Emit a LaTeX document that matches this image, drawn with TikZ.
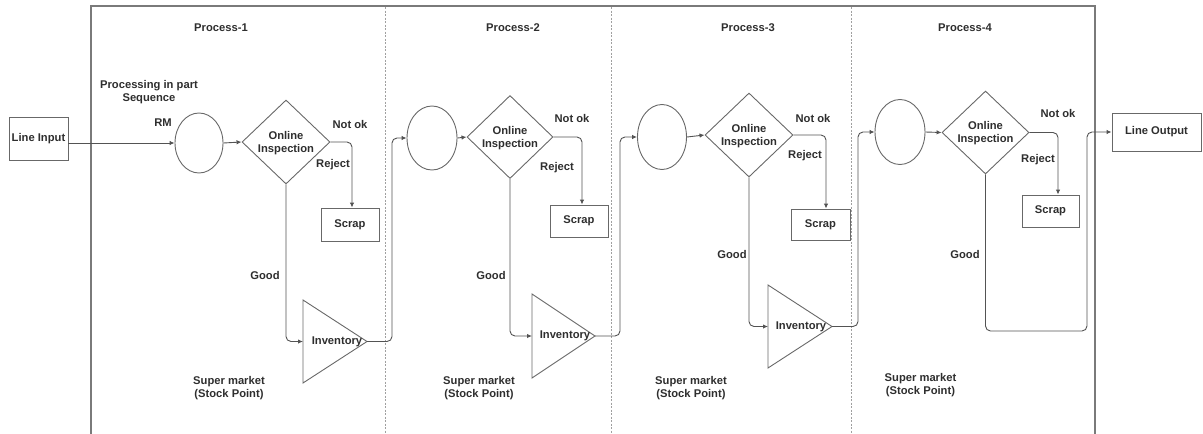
\documentclass[tikz,border=0pt]{standalone}
\usepackage{fontspec}
\setmainfont{Liberation Sans}
\usetikzlibrary{arrows.meta,shapes.geometric}

\definecolor{edge}{HTML}{686868}
\definecolor{framec}{HTML}{7A7A7A}
\definecolor{sep}{HTML}{A0A0A0}
\definecolor{ink}{HTML}{2E2E2E}

\begin{document}
\begin{tikzpicture}[x=1pt,y=-1pt,
  txt/.style={font=\bfseries\fontsize{11.2}{13}\selectfont, text=ink, inner sep=0pt, align=center},
  box/.style={draw=edge, line width=0.9pt, rectangle, inner sep=0pt, txt},
  station/.style={draw=edge, line width=0.9pt, ellipse, inner sep=0pt},
  check/.style={draw=edge, line width=0.9pt, diamond, inner sep=0pt},
  conn/.style={draw=edge!80!black, line width=0.9pt, rounded corners=5pt, -{Latex[length=5pt,width=4.5pt]}},
  store/.style={draw=edge, line width=0.9pt, line join=miter},
  lane/.style={draw=sep, line width=0.8pt, dash pattern=on 2pt off 1.5pt},
  outline/.style={draw=framec, line width=1.3pt},
]
\useasboundingbox (0,0) rectangle (1203,434);

% outer frame and lane separators
\draw[outline] (91,434) -- (91,6) -- (1095,6) -- (1095,434);
\draw[lane] (385,7) -- (385,434);
\draw[lane] (611,7) -- (611,434);
\draw[lane] (851,7) -- (851,434);

% lane titles
\node[txt] (h1) at (221,28) {Process-1};
\node[txt] (h2) at (513,28) {Process-2};
\node[txt] (h3) at (748,28) {Process-3};
\node[txt] (h4) at (965,28) {Process-4};

% line input
\node[box, minimum width=59pt, minimum height=43pt] (li) at (38.5,138.5) {Line Input};
\node[txt] (seq) at (149,92) {Processing in part\\Sequence};
\node[txt] (rm) at (163,123) {RM};

% ---------- Process 1 ----------
\node[station, minimum width=48pt, minimum height=60pt] (c1) at (199,143) {};
\node[check, minimum width=88pt, minimum height=84pt] (d1) at (286,142) {};
\node[txt] (d1t) at (286,143) {Online\\Inspection};
\node[box, minimum width=58pt, minimum height=33pt] (s1) at (350,224.5) {Scrap};
\node[txt] (n1) at (350,124) {Not ok};
\node[txt] (r1) at (333,165) {Reject};
\node[txt] (g1) at (265,275) {Good};
\coordinate (t1w) at (303,341.5);
\coordinate (t1e) at (367,341.5);
\draw[store] (303,300) -- (t1e) -- (303,383) -- cycle;
\node[txt] (t1t) at (337,342) {Inventory};
\node[txt] (m1) at (229,388) {Super market\\(Stock Point)};

\draw[conn] (li.east |- c1.west) -- (c1.west);
\draw[conn] (c1.east) -- (d1.west);
\draw[conn] (d1.east) -| ([xshift=2pt]s1.north);
\draw[conn] (d1.south) |- (t1w);

% ---------- Process 2 ----------
\node[station, minimum width=50pt, minimum height=64pt] (c2) at (432,138) {};
\node[check, minimum width=86pt, minimum height=83pt] (d2) at (510,137) {};
\node[txt] (d2t) at (510,138) {Online\\Inspection};
\node[box, minimum width=58pt, minimum height=32pt] (s2) at (579,221) {Scrap};
\node[txt] (n2) at (572,118) {Not ok};
\node[txt] (r2) at (557,168) {Reject};
\node[txt] (g2) at (491,275) {Good};
\coordinate (t2w) at (532,336);
\coordinate (t2e) at (595,336);
\draw[store] (532,294) -- (t2e) -- (532,378) -- cycle;
\node[txt] (t2t) at (565,336) {Inventory};
\node[txt] (m2) at (479,388) {Super market\\(Stock Point)};

\draw[conn] (t1e) -- ++(25,0) |- (c2.west);
\draw[conn] (c2.east) -- (d2.west);
\draw[conn] (d2.east) -| ([xshift=3pt]s2.north);
\draw[conn] (d2.south) |- (t2w);

% ---------- Process 3 ----------
\node[station, minimum width=49pt, minimum height=65pt] (c3) at (662,137) {};
\node[check, minimum width=88pt, minimum height=84pt] (d3) at (749,135) {};
\node[txt] (d3t) at (749,136) {Online\\Inspection};
\node[box, minimum width=59pt, minimum height=31pt] (s3) at (820.5,224.5) {Scrap};
\node[txt] (n3) at (813,118) {Not ok};
\node[txt] (r3) at (805,156) {Reject};
\node[txt] (g3) at (732,254) {Good};
\coordinate (t3w) at (768,326.5);
\coordinate (t3e) at (832,326.5);
\draw[store] (768,285) -- (t3e) -- (768,368) -- cycle;
\node[txt] (t3t) at (801,327) {Inventory};
\node[txt] (m3) at (691,388) {Super market\\(Stock Point)};

\draw[conn] (t2e) -- ++(25,0) |- (c3.west);
\draw[conn] (c3.east) -- (d3.west);
\draw[conn] (d3.east) -| ([xshift=5.5pt]s3.north);
\draw[conn] (d3.south) |- (t3w);

% ---------- Process 4 ----------
\node[station, minimum width=50pt, minimum height=65pt] (c4) at (900,132) {};
\node[check, minimum width=87pt, minimum height=83pt] (d4) at (985.5,132.5) {};
\node[txt] (d4t) at (985.5,133.5) {Online\\Inspection};
\node[box, minimum width=57pt, minimum height=32pt] (s4) at (1050.5,211) {Scrap};
\node[txt] (n4) at (1058,113) {Not ok};
\node[txt] (r4) at (1038,160) {Reject};
\node[txt] (g4) at (965,254) {Good};
\node[txt] (m4) at (920.5,385.5) {Super market\\(Stock Point)};

% line output
\node[box, minimum width=89pt, minimum height=38pt] (lo) at (1156.5,132) {Line Output};
\coordinate (j4) at (1087,331);

\draw[conn] (t3e) -- ++(26,0) |- (c4.west);
\draw[conn] (c4.east) -- (d4.west);
\draw[conn] (d4.east) -| ([xshift=7.5pt]s4.north);
\draw[conn] (d4.south) |- (j4) |- (lo.west);
\end{tikzpicture}
\end{document}
